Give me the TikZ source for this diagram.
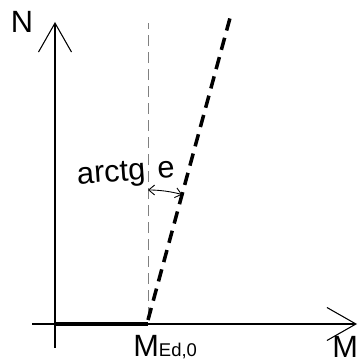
\documentclass[tikz,border=0pt]{standalone}
\usepackage{fontspec}
\setmainfont{Liberation Sans}
\usetikzlibrary{arrows.meta}
\tikzstyle{axis} = [
    line width=0.7pt,
    -{Straight Barb[length=5.8mm, width=6.6mm, line width=0.6pt]}
]
\tikzstyle{guide} = [
    line width=0.5pt,
    gray,
    dash pattern=on 2.2mm off 1.2mm
]
\tikzstyle{base} = [line width=2.4pt]
\tikzstyle{slope} = [
    line width=2pt,
    dash pattern=on 2.5mm off 1.5mm
]
\tikzstyle{anglearc} = [
    line width=0.5pt,
    {Straight Barb[length=1.2mm, width=2mm]}-{Straight Barb[length=1.2mm, width=2mm]}
]
\tikzstyle{label} = [inner sep=0pt, font=\fontsize{17.5}{20}\selectfont]

\begin{document}
\begin{tikzpicture}[x=0.02cm, y=0.02cm]
\useasboundingbox (0,0) rectangle (364,364);

\coordinate (origin) at (55,40);
\coordinate (ntop) at (55,342);
\coordinate (nbot) at (55,16);
\coordinate (mleft) at (32,40);
\coordinate (mright) at (357,40);
\coordinate (med) at (148,40);
\coordinate (guidetop) at (148,341);
\coordinate (guidebot) at (148,46);
\coordinate (slopebot) at (148,44);
\coordinate (slopetop) at (230,346);

% Axes
\draw [axis] (nbot) -- (ntop);
\draw [axis] (mleft) -- (mright);

% Lines
\draw [base] (origin) -- (med);
\draw [guide] (guidebot) -- (guidetop);
\draw [slope] (slopebot) -- (slopetop);
\draw [anglearc] (slopebot) ++(90:130) arc (90:74.8:130);

% Labels
\node (nlabel) [label] at (22,342) {N};
\node (mlabel) [label, anchor=base west] at (332,7) {M};
\node (medlabel) [label, anchor=base west] at (133,8)
{M{\fontsize{10.5}{12}\selectfont Ed,0}};
\node (arclabel) [label, rotate=4] at (126,190) {arctg\hspace{0.4em}e};

\end{tikzpicture}
\end{document}
